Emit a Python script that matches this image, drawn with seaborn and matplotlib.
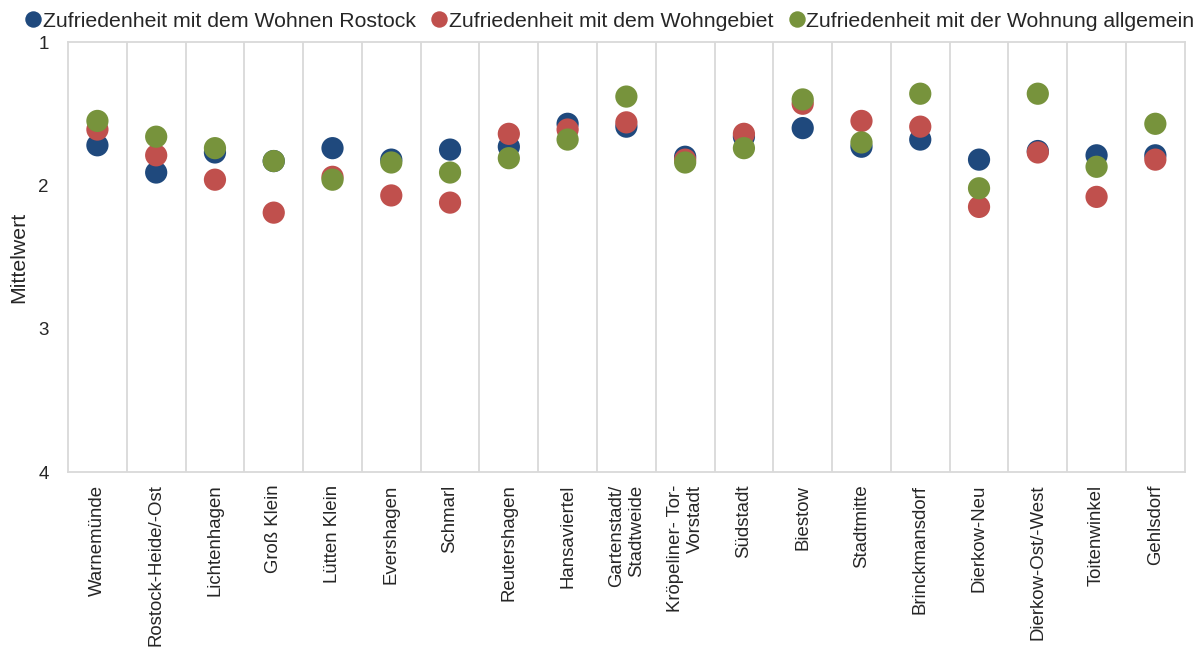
import numpy as np
import pandas as pd
import matplotlib
matplotlib.use("Agg")
import matplotlib.pyplot as plt
import seaborn as sns

# Stadtteile und Mittelwerte (1 = sehr zufrieden)
stadtteile = ["Warnemünde", "Rostock-Heide/-Ost", "Lichtenhagen", "Groß Klein",
              "Lütten Klein", "Evershagen", "Schmarl", "Reutershagen", "Hansaviertel",
              "Gartenstadt/\nStadtweide", "Kröpeliner- Tor-\nVorstadt", "Südstadt",
              "Biestow", "Stadtmitte", "Brinckmansdorf", "Dierkow-Neu",
              "Dierkow-Ost/-West", "Toitenwinkel", "Gehlsdorf"]
wohnen_rostock = [1.72, 1.91, 1.77, 1.83, 1.74, 1.82, 1.75, 1.73, 1.57, 1.59,
                  1.80, 1.66, 1.60, 1.73, 1.68, 1.82, 1.76, 1.79, 1.79]
wohngebiet = [1.61, 1.79, 1.96, 2.19, 1.94, 2.07, 2.12, 1.64, 1.61, 1.56,
              1.82, 1.64, 1.43, 1.55, 1.59, 2.15, 1.77, 2.08, 1.82]
wohnung = [1.55, 1.66, 1.74, 1.83, 1.96, 1.84, 1.91, 1.81, 1.68, 1.38,
           1.84, 1.74, 1.40, 1.70, 1.36, 2.02, 1.36, 1.87, 1.57]
reihen = ["Zufriedenheit mit dem Wohnen Rostock",
          "Zufriedenheit mit dem Wohngebiet",
          "Zufriedenheit mit der Wohnung allgemein"]
farben = ["#1F497D", "#C0504D", "#77933C"]

df = pd.DataFrame({
    "Stadtteil": stadtteile * 3,
    "Mittelwert": wohnen_rostock + wohngebiet + wohnung,
    "Reihe": [r for r in reihen for _ in stadtteile],
})

sns.set_style("white")
plt.rcParams['font.family'] = ['Liberation Sans', 'DejaVu Sans']

fig = plt.figure(figsize=(12.04, 6.48), dpi=100)
ax = fig.add_axes([0.0565, 0.2716, 0.9275, 0.6634])

sns.stripplot(data=df, x="Stadtteil", y="Mittelwert", hue="Reihe",
              palette=farben, jitter=False, dodge=False, size=16,
              linewidth=0, ax=ax, legend=True)

ax.set_xlim(-0.5, len(stadtteile) - 0.5)
ax.set_ylim(4, 1)
ax.set_yticks([1, 2, 3, 4])
ax.tick_params(axis='y', labelsize=13.5, length=0, pad=14)
ax.tick_params(axis='x', length=0, pad=9)
for lab in ax.get_xticklabels():
    lab.set_rotation(90)
    lab.set_fontsize(13.4)
    lab.set_ha("center")
    lab.set_va("top")
    lab.set_multialignment("right")

# vertikale Trennlinien zwischen den Stadtteilen
ax.set_xticks(np.arange(0.5, len(stadtteile) - 0.5), minor=True)
ax.grid(which="minor", axis="x", color="#D9D9D9", linewidth=1.3)
ax.grid(which="major", axis="y", visible=False)
for sp in ax.spines.values():
    sp.set_color("#D9D9D9")
    sp.set_linewidth(1.3)

ax.set_xlabel("")
ax.set_ylabel("Mittelwert", fontsize=15.3, labelpad=7)

handles, labels = ax.get_legend_handles_labels()
ax.get_legend().remove()
fig.legend(handles, labels, loc="upper left", bbox_to_anchor=(0.0137, 0.995),
           borderaxespad=0, ncol=3, frameon=False, fontsize=15.3,
           handletextpad=0.05, columnspacing=0.7, markerscale=0.74,
           handlelength=0.8)

fig.savefig("out.png", dpi=100)
